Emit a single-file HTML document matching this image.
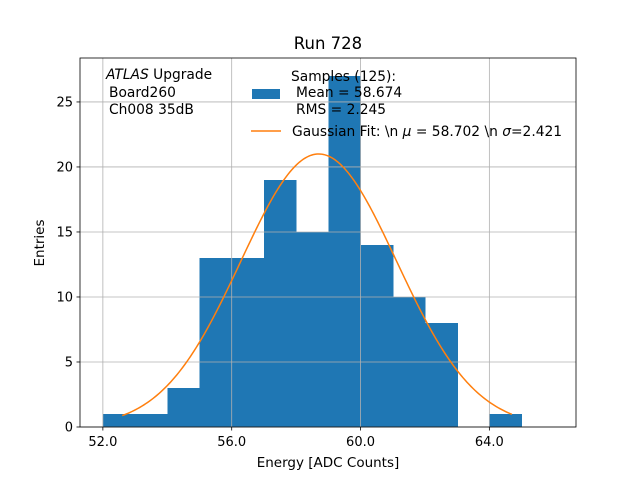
<!DOCTYPE html>
<html><head><meta charset="utf-8"><style>
body{margin:0;background:#fff}
svg{display:block;font-family:"DejaVu Sans","Liberation Sans",sans-serif}
</style></head><body>
<svg id="chart" width="640" height="480" viewBox="0 0 640 480"></svg>
<script>
const binEdgesLeft=[52,53,54,55,56,57,58,59,60,61,62,63,64];
const counts=[1,1,3,13,13,19,15,27,14,10,8,0,1];
const xTicks=[52,56,60,64];
const xTickLabels=["52.0","56.0","60.0","64.0"];
const yTicks=[0,5,10,15,20,25];
const fitMu=[58.702];
const fitSigma=[2.421];
const fitAmp=[21.0];
const fitRange=[52.6,64.7];
const binWidth=1;

const L=80,R=576,T=58,B=427,xmin=51.29,xmax=66.69,ymin=0,ymax=28.38;
const X=v=>L+(v-xmin)/(xmax-xmin)*(R-L);
const Y=v=>B-(v-ymin)/(ymax-ymin)*(B-T);
const svg=document.getElementById('chart');
const NS='http://www.w3.org/2000/svg';
function mk(tag,attrs,parent){const e=document.createElementNS(NS,tag);for(const k in attrs)e.setAttribute(k,attrs[k]);(parent||svg).appendChild(e);return e;}

const bars=mk('g',{'shape-rendering':'crispEdges'});


counts.forEach((c,i)=>{if(c<=0)return;
 const r=mk('rect',{x:X(binEdgesLeft[i]),y:Y(c),width:X(binEdgesLeft[i]+binWidth)-X(binEdgesLeft[i])+0.6,height:Y(0)-Y(c),fill:'#1f77b4'},bars);
 
 
});
const grid=mk('g',{stroke:'#b0b0b0','stroke-width':0.8});


xTicks.forEach(t=>mk('line',{x1:X(t),x2:X(t),y1:T,y2:B},grid));
yTicks.forEach(t=>mk('line',{x1:L,x2:R,y1:Y(t),y2:Y(t)},grid));

let pts=[];
for(let k=0;k<=200;k++){const x=fitRange[0]+(fitRange[1]-fitRange[0])*k/200;
 const y=fitAmp[0]*Math.exp(-0.5*Math.pow((x-fitMu[0])/fitSigma[0],2));
 pts.push(X(x).toFixed(2)+','+Y(y).toFixed(2));}
const curve=mk('polyline',{points:pts.join(' '),fill:'none',stroke:'#ff7f0e','stroke-width':1.5});



const frame=mk('rect',{x:L,y:T,width:R-L,height:B-T,fill:'none',stroke:'#000','stroke-width':0.8});



const ax=mk('g',{'font-size':13,fill:'#000'});


xTicks.forEach((t,i)=>{mk('line',{x1:X(t),x2:X(t),y1:B,y2:B+3.5,stroke:'#000','stroke-width':0.8},ax);
 const tx=mk('text',{x:X(t),y:B+19,'text-anchor':'middle'},ax);tx.textContent=xTickLabels[i];});
yTicks.forEach(t=>{mk('line',{x1:L-3.5,x2:L,y1:Y(t),y2:Y(t),stroke:'#000','stroke-width':0.8},ax);
 const tx=mk('text',{x:L-7,y:Y(t)+4.5,'text-anchor':'end'},ax);tx.textContent=t;});
</script>
<svg width="640" height="480" style="position:absolute;left:0;top:0" font-family="DejaVu Sans, Liberation Sans, sans-serif">
<text x="328" y="49" font-size="16.5" text-anchor="middle">Run 728</text>
<text x="328" y="467" font-size="13.5" text-anchor="middle">Energy [ADC Counts]</text>
<text transform="translate(44,243) rotate(-90)" font-size="13.5" text-anchor="middle">Entries</text>
<g font-size="13.8">
<text x="106" y="79"><tspan font-style="italic">ATLAS</tspan> Upgrade</text>
<text x="109" y="97">Board260</text>
<text x="109" y="114">Ch008 35dB</text>
</g>
<g font-size="13.8">
<rect x="252" y="89" width="28" height="10" fill="#1f77b4"/>
<text x="291" y="81">Samples (125):</text>
<text x="296" y="97">Mean = 58.674</text>
<text x="296" y="114">RMS = 2.245</text>
<line x1="251" y1="131" x2="281" y2="131" stroke="#ff7f0e" stroke-width="1.5"/>
<text x="292" y="136">Gaussian Fit: \n <tspan font-style="italic">μ</tspan> = 58.702 \n <tspan font-style="italic">σ</tspan>=2.421</text>
</g>
</svg>
</body></html>
